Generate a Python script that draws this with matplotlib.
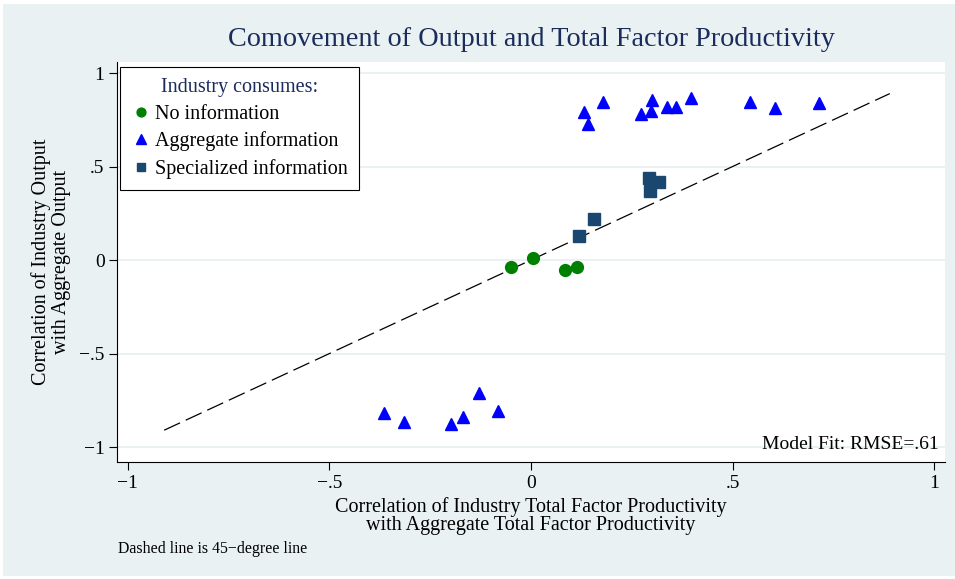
import matplotlib
matplotlib.use("Agg")
from matplotlib import pyplot as plt
from matplotlib.patches import Rectangle

plt.rcParams['font.family'] = ['Liberation Serif', 'DejaVu Serif']

# industries that use no information
none_x = [-0.050, 0.005, 0.084, 0.114]
none_y = [-0.037, 0.011, -0.053, -0.037]

# industries that use aggregate information
agg_x = [0.132, 0.141, 0.179, 0.273, 0.300, 0.298, 0.337, 0.360, 0.397, 0.543, 0.605, 0.715,
         -0.365, -0.315, -0.199, -0.169, -0.129, -0.082]
agg_y = [0.791, 0.727, 0.845, 0.781, 0.856, 0.797, 0.818, 0.818, 0.866, 0.845, 0.813, 0.840,
         -0.818, -0.866, -0.877, -0.840, -0.711, -0.807]

# industries that use specialized information
spec_x = [0.119, 0.156, 0.293, 0.318, 0.295]
spec_y = [0.128, 0.219, 0.439, 0.417, 0.369]

line45 = [-0.91, 0.89]
xticks = [-1, -0.5, 0, 0.5, 1]
ticklabels = ['\u22121', '\u2212.5', '0', '.5', '1']
rmse = .61

bg = '#e9f1f3'
navy = '#1a2b5c'

fig = plt.figure(figsize=(9.55, 5.79), dpi=100, facecolor='white')
fig.patches.append(Rectangle((3 / 955, 3 / 579), 1 - 3 / 955, 1 - 7 / 579,
                             transform=fig.transFigure, facecolor=bg, edgecolor='none', zorder=-10))
ax = fig.add_axes([117 / 955, 1 - 462 / 579, 828 / 955, 400 / 579])
ax.set_facecolor('white')

ax.set_xlim(-1.027, 1.027)
ax.set_ylim(-1.080, 1.059)

for v in xticks:
    ax.axhline(v, color=bg, lw=1.4, zorder=1)

ax.plot(line45, line45, color='black', lw=0.9, dashes=(14, 5), zorder=2)

ax.plot(none_x, none_y, 'o', color='#008000', ms=8.5, mec='#008000', ls='none',
        label='No information', zorder=3)
ax.plot(agg_x, agg_y, '^', color='#0000ff', ms=9, mec='#0000ff', ls='none',
        label='Aggregate information', zorder=3)
ax.plot(spec_x, spec_y, 's', color='#1a476f', ms=8, mec='#1a476f', ls='none',
        label='Specialized information', zorder=3)

ax.set_xticks(xticks)
ax.set_xticklabels(ticklabels)
ax.set_yticks(xticks)
ax.set_yticklabels(ticklabels)
ax.tick_params(direction='out', length=6, width=0.8, labelsize=14, pad=3, color='black')
for s in ['top', 'right']:
    ax.spines[s].set_visible(False)
for s in ['left', 'bottom']:
    ax.spines[s].set_linewidth(0.8)

ax.set_xlabel('Correlation of Industry Total Factor Productivity\nwith Aggregate Total Factor Productivity',
              fontsize=14.5, linespacing=0.95, labelpad=4)
ax.set_ylabel('Correlation of Industry Output\nwith Aggregate Output', fontsize=14.5, linespacing=1.05, labelpad=6)

fig.text(531 / 955, 1 - 40 / 579, 'Comovement of Output and Total Factor Productivity',
         ha='center', va='center', fontsize=20.3, color=navy)

ax.text(0.993, 0.043, f'Model Fit: RMSE={str(rmse)[1:]}', transform=ax.transAxes,
        ha='right', va='center', fontsize=14)

fig.text(118 / 955, 1 - 549 / 579, 'Dashed line is 45\u2212degree line', ha='left', va='center', fontsize=11.4)

leg = ax.legend(loc='upper left', bbox_to_anchor=(0.0036, 0.9875), borderaxespad=0,
                title='Industry consumes:', fontsize=14.5, title_fontsize=14.5,
                frameon=True, fancybox=False, edgecolor='black', framealpha=1,
                handletextpad=0.2, handlelength=1.0, labelspacing=0.38, borderpad=0.55,
                markerscale=0.75)
leg.get_title().set_color(navy)
leg.get_frame().set_linewidth(0.8)

fig.savefig('out.png', dpi=100, facecolor='white')
